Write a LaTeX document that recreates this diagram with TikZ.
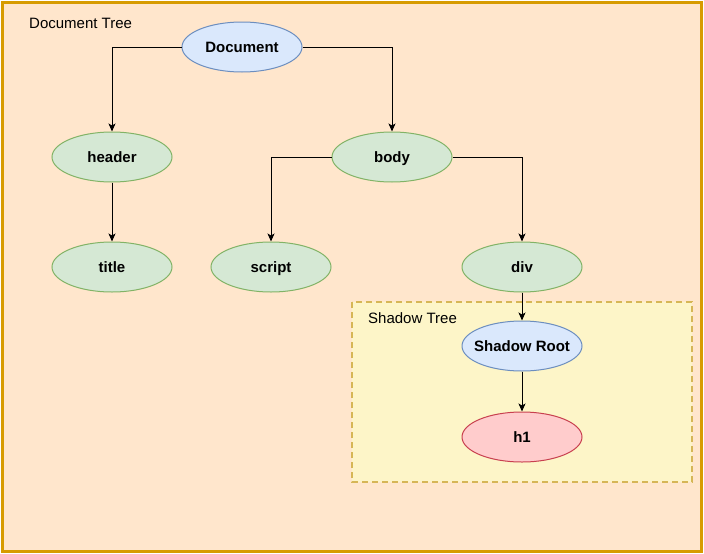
\documentclass[tikz,border=0pt]{standalone}
\usepackage{fontspec}
\setmainfont{Liberation Sans}
\usetikzlibrary{shapes.geometric,arrows.meta}
\definecolor{outerfill}{HTML}{FFE6CC}
\definecolor{outerdraw}{HTML}{D79B00}
\definecolor{shadowfill}{HTML}{FDF5C8}
\definecolor{shadowdraw}{HTML}{D6B656}
\definecolor{bluefill}{HTML}{DAE8FC}
\definecolor{bluedraw}{HTML}{6C8EBF}
\definecolor{greenfill}{HTML}{D5E8D4}
\definecolor{greendraw}{HTML}{82B366}
\definecolor{redfill}{HTML}{FFCCCC}
\definecolor{reddraw}{HTML}{C8404F}
\newcommand{\ctext}[1]{\makebox[0pt][c]{#1}}
\tikzset{
  el/.style={ellipse, minimum width=120pt, minimum height=50pt, inner sep=0pt, text height=10.8pt, text depth=0pt, line width=1pt, font=\bfseries\fontsize{15pt}{18pt}\selectfont},
  blueel/.style={el, draw=bluedraw, fill=bluefill},
  greenel/.style={el, draw=greendraw, fill=greenfill},
  redel/.style={el, draw=reddraw, fill=redfill},
  conn/.style={line width=1pt, -{Stealth[length=8pt,width=7pt,inset=2pt]}},
  lbl/.style={anchor=west, inner sep=0pt, font=\fontsize{15pt}{18pt}\selectfont}
}
\begin{document}
\begin{tikzpicture}[x=1pt,y=-1pt]
\useasboundingbox (0,0) rectangle (704,554);
\draw[line width=3pt, draw=outerdraw, fill=outerfill] (2.5,2.5) rectangle (701.5,551.5);
\draw[line width=2pt, draw=shadowdraw, fill=shadowfill, dash pattern=on 6pt off 4pt] (352,302) rectangle (692,482);
\node[lbl] (doctree) at (29,23) {Document Tree};
\node[lbl] (shtree) at (368,318) {Shadow Tree};
\node[blueel] (document) at (242,47) {\ctext{Document}};
\node[greenel] (header) at (112,157) {\ctext{header}};
\node[greenel] (body) at (392,157) {\ctext{body}};
\node[greenel] (title) at (112,267) {\ctext{title}};
\node[greenel] (script) at (271,267) {\ctext{script}};
\node[greenel] (div) at (522,267) {\ctext{div}};
\node[blueel] (sroot) at (522,346) {\ctext{Shadow Root}};
\node[redel] (h1) at (522,437) {\ctext{h1}};
\draw[conn] (document.west) -| (header.north);
\draw[conn] (document.east) -| (body.north);
\draw[conn] (header.south) -- (title.north);
\draw[conn] (body.west) -| (script.north);
\draw[conn] (body.east) -| (div.north);
\draw[conn] (div.south) -- (sroot.north);
\draw[conn] (sroot.south) -- (h1.north);
\end{tikzpicture}
\end{document}
